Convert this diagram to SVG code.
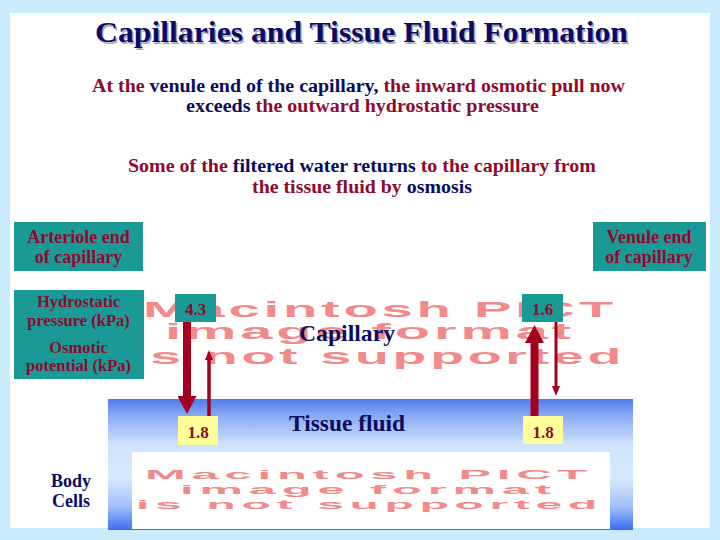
<svg xmlns="http://www.w3.org/2000/svg" width="720" height="540" viewBox="0 0 720 540">
<defs>
<style>
.serif{font-family:"Liberation Serif","Times New Roman",serif;font-weight:bold}
.navy{fill:#0b0b62}
.red{fill:#8e0a2e}
.teal{fill:#1a9a97}
.yel{fill:#ffff99}
.wm{font-family:"Liberation Sans",Arial,sans-serif;font-weight:bold;fill:#f28a8a}
.arrow{stroke:#a3001f;fill:none}
</style>
<linearGradient id="tg" x1="0" y1="0" x2="0" y2="1">
<stop offset="0" stop-color="#4f7bec"/>
<stop offset="0.12" stop-color="#86a8f4"/>
<stop offset="0.35" stop-color="#cfe3fd"/>
<stop offset="0.6" stop-color="#d6eafe"/>
<stop offset="0.82" stop-color="#a2c0f9"/>
<stop offset="1" stop-color="#3a6bf6"/>
</linearGradient>
<marker id="hThick" markerUnits="userSpaceOnUse" viewBox="0 0 18 19" refX="0" refY="9.5" markerWidth="18" markerHeight="19" orient="auto">
<path d="M0,0 L18,9.5 L0,19 Z" fill="#a3001f"/>
</marker>
<marker id="hThin" markerUnits="userSpaceOnUse" viewBox="0 0 10 8" refX="0" refY="4" markerWidth="10" markerHeight="8" orient="auto">
<path d="M0,0 L10,4 L0,8 Z" fill="#a3001f"/>
</marker>
</defs>
<rect x="0" y="0" width="720" height="540" fill="#c9ebfb"/>
<rect x="10" y="13" width="700" height="515" fill="#ffffff"/>

<g id="title">
<text class="serif" x="363" y="44" font-size="30" text-anchor="middle" textLength="533" lengthAdjust="spacingAndGlyphs" fill="#a7a7c0">Capillaries and Tissue Fluid Formation</text>
<text class="serif navy" x="361.5" y="42" font-size="30" text-anchor="middle" textLength="533" lengthAdjust="spacingAndGlyphs">Capillaries and Tissue Fluid Formation</text>
</g>

<g id="statement" class="serif" font-size="18">
<text x="358.5" y="92" text-anchor="middle" textLength="533" lengthAdjust="spacingAndGlyphs"><tspan class="red">At the </tspan><tspan class="navy">venule end of the capillary, </tspan><tspan class="red">the inward osmotic pull now</tspan></text>
<text x="362.5" y="112" text-anchor="middle" textLength="353" lengthAdjust="spacingAndGlyphs"><tspan class="navy">exceeds </tspan><tspan class="red">the outward hydrostatic pressure</tspan></text>
</g>

<g id="osmosis-note" class="serif" font-size="18">
<text x="362" y="172" text-anchor="middle" textLength="468" lengthAdjust="spacingAndGlyphs"><tspan class="red">Some of the </tspan><tspan class="navy">filtered water returns </tspan><tspan class="red">to the capillary from</tspan></text>
<text x="362" y="193" text-anchor="middle" textLength="220" lengthAdjust="spacingAndGlyphs"><tspan class="red">the tissue fluid by </tspan><tspan class="navy">osmosis</tspan></text>
</g>

<g id="tissue-fluid">
<rect x="108" y="399" width="525" height="131" fill="url(#tg)"/>
<rect x="132" y="452" width="478" height="77" fill="#ffffff"/>
<text class="serif navy" x="347" y="431" font-size="24" text-anchor="middle" textLength="116" lengthAdjust="spacingAndGlyphs" font-weight="normal">Tissue fluid</text>
</g>

<g id="pict-placeholder-top" class="wm" font-size="22" letter-spacing="1.5">
<text x="143" y="317" textLength="474" lengthAdjust="spacingAndGlyphs">Macintosh PICT</text>
<text x="165" y="339" textLength="410" lengthAdjust="spacingAndGlyphs">image format</text>
<text x="131" y="364" textLength="494" lengthAdjust="spacingAndGlyphs">is not supported</text>
</g>

<g id="pict-placeholder-bottom" class="wm" font-size="12.5" letter-spacing="1.5">
<text x="145" y="479" textLength="448" lengthAdjust="spacingAndGlyphs">Macintosh PICT</text>
<text x="180" y="494" textLength="377" lengthAdjust="spacingAndGlyphs">image format</text>
<text x="136" y="509" textLength="467" lengthAdjust="spacingAndGlyphs">is not supported</text>
</g>

<g id="capillary-label">
<text class="serif navy" x="347" y="341" font-size="24" text-anchor="middle" textLength="96" lengthAdjust="spacingAndGlyphs" font-weight="normal">Capillary</text>
</g>

<g id="arteriole-end">
<rect class="teal" x="14" y="222" width="129" height="49"/>
<text class="serif red" font-size="18" text-anchor="middle"><tspan x="78.5" y="243">Arteriole end</tspan><tspan x="78.5" y="263">of capillary</tspan></text>
</g>

<g id="venule-end">
<rect class="teal" x="593" y="222" width="113" height="49"/>
<text class="serif red" font-size="18" text-anchor="middle"><tspan x="649" y="243">Venule end</tspan><tspan x="649" y="263">of capillary</tspan></text>
</g>

<g id="legend">
<rect class="teal" x="14" y="290" width="130" height="89"/>
<text class="serif red" font-size="16.5" text-anchor="middle"><tspan x="78.5" y="307">Hydrostatic</tspan><tspan x="78.5" y="326">pressure (kPa)</tspan><tspan x="78.5" y="353">Osmotic</tspan><tspan x="78.5" y="371">potential (kPa)</tspan></text>
</g>

<g id="body-cells">
<text class="serif navy" font-size="18" text-anchor="middle"><tspan x="71" y="487">Body</tspan><tspan x="71" y="507">Cells</tspan></text>
</g>

<g id="connectors">
<line class="arrow" x1="187" y1="322" x2="187" y2="396" stroke-width="8" marker-end="url(#hThick)"/>
<line class="arrow" x1="209" y1="416" x2="209" y2="360" stroke-width="3.5" marker-end="url(#hThin)"/>
<line class="arrow" x1="534.5" y1="416" x2="534.5" y2="343" stroke-width="8" marker-end="url(#hThick)"/>
<line class="arrow" x1="556" y1="322" x2="556" y2="386" stroke-width="3" marker-end="url(#hThin)"/>
</g>

<g id="val-4-3">
<rect class="teal" x="175" y="294" width="41" height="28"/>
<text class="serif red" x="195.5" y="315" font-size="17" text-anchor="middle">4.3</text>
</g>
<g id="val-1-6">
<rect class="teal" x="522" y="294" width="41" height="28"/>
<text class="serif red" x="542.5" y="315" font-size="17" text-anchor="middle">1.6</text>
</g>
<g id="val-1-8-left">
<rect class="yel" x="178" y="416" width="40" height="29"/>
<text class="serif red" x="198" y="438" font-size="17" text-anchor="middle">1.8</text>
</g>
<g id="val-1-8-right">
<rect class="yel" x="523" y="416" width="40" height="28"/>
<text class="serif red" x="543" y="438" font-size="17" text-anchor="middle">1.8</text>
</g>
</svg>
